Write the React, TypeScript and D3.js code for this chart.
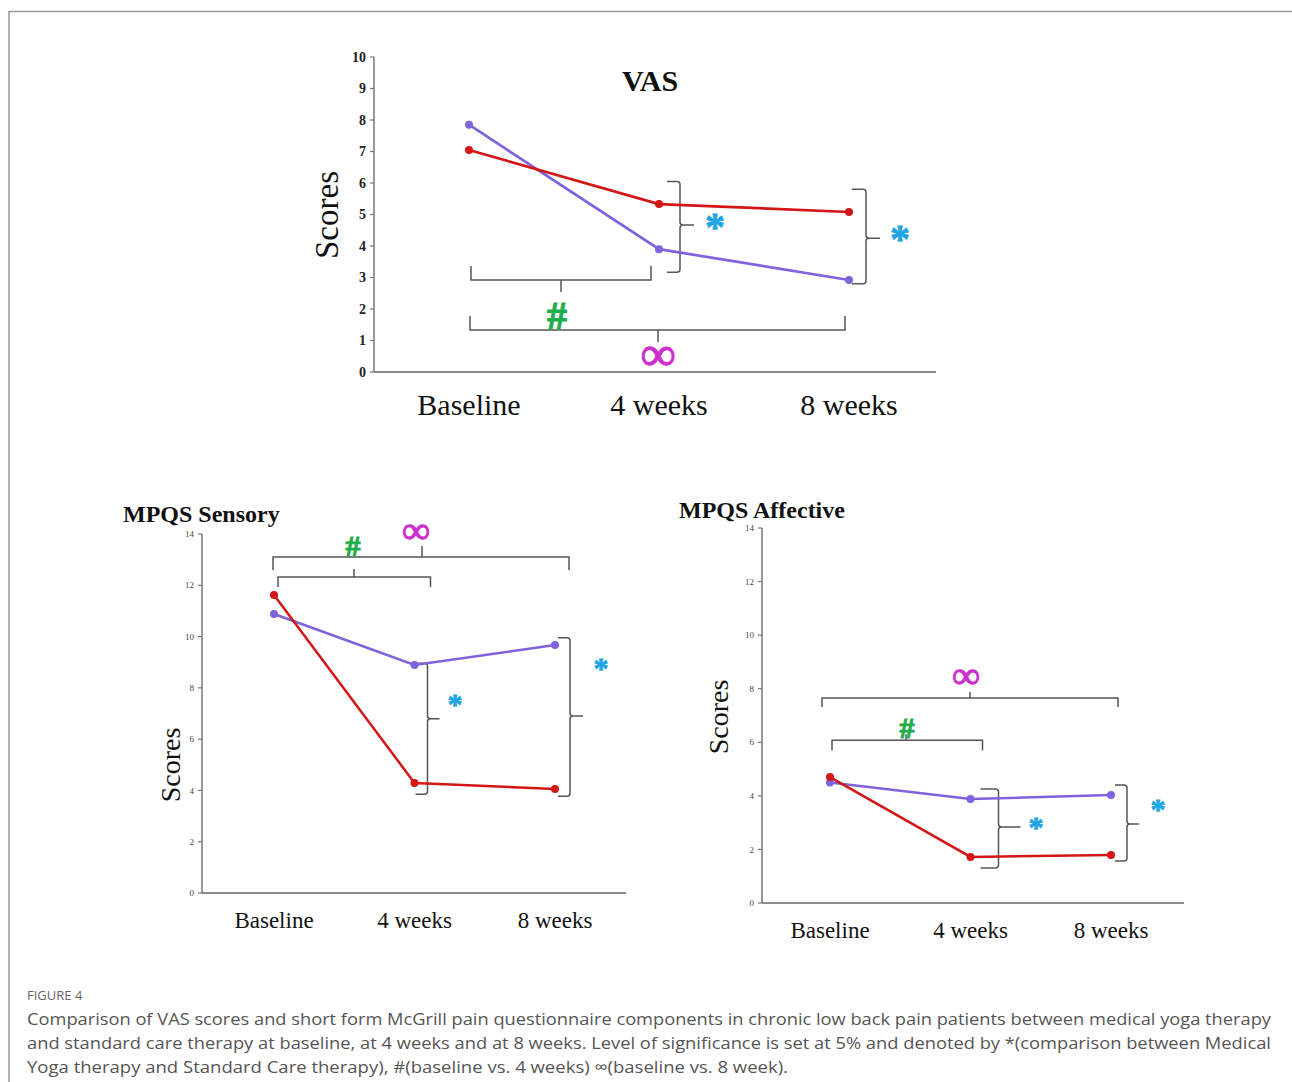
import React from "react";
import * as d3 from "d3";

// ---------- data ----------
const categories = ["Baseline", "4 weeks", "8 weeks"];

const vasPurple = [7.85, 3.9, 2.92];
const vasRed = [7.05, 5.33, 5.08];
const vasTicks = [0, 1, 2, 3, 4, 5, 6, 7, 8, 9, 10];

const sensoryPurple = [10.88, 8.89, 9.67];
const sensoryRed = [11.62, 4.29, 4.06];
const sensoryTicks = [0, 2, 4, 6, 8, 10, 12, 14];

const affectivePurple = [4.5, 3.88, 4.03];
const affectiveRed = [4.7, 1.72, 1.79];
const affectiveTicks = [0, 2, 4, 6, 8, 10, 12, 14];

const captionTitle = "FIGURE 4";
const captionLines = [
  "Comparison of VAS scores and short form McGrill pain questionnaire components in chronic low back pain patients between medical yoga therapy",
  "and standard care therapy at baseline, at 4 weeks and at 8 weeks. Level of significance is set at 5% and denoted by *(comparison between Medical",
  "Yoga therapy and Standard Care therapy), #(baseline vs. 4 weeks) \u221E(baseline vs. 8 week).",
];

const RED = "#d31616";
const PURPLE = "#7f62dc";
const STAR = "#1ea5e3";
const HASH = "#1fae4b";
const INF = "#cc30cc";
const BR = "#555";
const SERIF = "'Liberation Serif', 'DejaVu Serif', serif";

type HBr = { a: number; b: number; v: number; dx1: number; dx2: number; end: number; nub: number; nubX?: number };
type VBr = { c: number; dx: number; v1: number; v2: number; tick: number; nub: number; mid?: number };

type PanelCfg = {
  axisX: number;
  axisRight: number;
  y0: number;
  yTop: number;
  yMax: number;
  xFirst: number;
  xLast: number;
  ticks: number[];
  purple: number[];
  red: number[];
  title: string;
  titleX: number;
  titleY: number;
  titleSize: number;
  titleAnchor: string;
  ylabX: number;
  ylabY: number;
  ylabSize: number;
  tickSize: number;
  tickColor: string;
  tickWeight: string;
  xlabY: number;
  xlabSize: number;
  lineW: number;
  dotR: number;
  hash: HBr;
  hashPos: [number, number, number];
  inf: HBr;
  infPos: [number, number, number];
  vb: VBr[];
  stars: [number, number, number][];
};

function hPath(x1: number, x2: number, y: number, end: number, nub: number, nx: number) {
  return `M${x1},${y + end} L${x1},${y} L${x2},${y} L${x2},${y + end} M${nx},${y} L${nx},${y + nub}`;
}

function vPath(x: number, y1: number, y2: number, tick: number, nub: number, ym: number) {
  const r = 3;
  return `M${x - tick},${y1} L${x - r},${y1} Q${x},${y1} ${x},${y1 + r} L${x},${ym - r} Q${x},${ym} ${x + r},${ym} L${x + nub},${ym} M${x + r},${ym} Q${x},${ym} ${x},${ym + r} L${x},${y2 - r} Q${x},${y2} ${x - r},${y2} L${x - tick},${y2}`;
}

function Panel({ cfg }: { cfg: PanelCfg }) {
  const x = d3.scalePoint<string>().domain(categories).range([cfg.xFirst, cfg.xLast]);
  const y = d3.scaleLinear().domain([0, cfg.yMax]).range([cfg.y0, cfg.yTop]);
  const line = d3
    .line<number>()
    .x((_, i) => x(categories[i]) as number)
    .y((d) => y(d));
  const hb = (b: HBr) => {
    const x1 = (x(categories[b.a]) as number) + b.dx1;
    const x2 = (x(categories[b.b]) as number) + b.dx2;
    const nx = b.nubX !== undefined ? b.nubX : (x1 + x2) / 2;
    return hPath(x1, x2, y(b.v), b.end, b.nub, nx);
  };
  const vb = (b: VBr) => {
    const xx = (x(categories[b.c]) as number) + b.dx;
    const y1 = y(b.v1);
    const y2 = y(b.v2);
    const ym = b.mid !== undefined ? y(b.mid) : (y1 + y2) / 2;
    return vPath(xx, y1, y2, b.tick, b.nub, ym);
  };
  return (
    <g>
      {/* axes */}
      <line x1={cfg.axisX} x2={cfg.axisX} y1={cfg.yTop} y2={cfg.y0} stroke="#777" strokeWidth={1.5} />
      <line x1={cfg.axisX} x2={cfg.axisRight} y1={cfg.y0} y2={cfg.y0} stroke="#666" strokeWidth={1.6} />
      {cfg.ticks.map((t) => (
        <g key={t}>
          <line x1={cfg.axisX - 4} x2={cfg.axisX} y1={y(t)} y2={y(t)} stroke="#777" strokeWidth={1.2} />
          <text
            x={cfg.axisX - 8}
            y={y(t)}
            dy="0.35em"
            textAnchor="end"
            fontFamily={SERIF}
            fontSize={cfg.tickSize}
            fontWeight={cfg.tickWeight}
            fill={cfg.tickColor}
          >
            {t}
          </text>
        </g>
      ))}
      {categories.map((c) => (
        <text
          key={c}
          x={x(c) as number}
          y={cfg.xlabY}
          dy="0.35em"
          textAnchor="middle"
          fontFamily={SERIF}
          fontSize={cfg.xlabSize}
          fill="#111"
        >
          {c}
        </text>
      ))}
      <text
        transform={`translate(${cfg.ylabX},${cfg.ylabY}) rotate(-90)`}
        textAnchor="middle"
        dy="0.35em"
        fontFamily={SERIF}
        fontSize={cfg.ylabSize}
        fill="#111"
      >
        Scores
      </text>
      <text
        x={cfg.titleX}
        y={cfg.titleY}
        dy="0.35em"
        textAnchor={cfg.titleAnchor}
        fontFamily={SERIF}
        fontWeight="bold"
        fontSize={cfg.titleSize}
        fill="#111"
      >
        {cfg.title}
      </text>
      {/* brackets */}
      <g fill="none" stroke={BR} strokeWidth={1.5}>
        <path d={hb(cfg.hash)} />
        <path d={hb(cfg.inf)} />
        {cfg.vb.map((b, i) => (
          <path key={i} d={vb(b)} />
        ))}
      </g>
      {/* series */}
      <path d={line(cfg.purple) || ""} fill="none" stroke={PURPLE} strokeWidth={cfg.lineW} />
      <path d={line(cfg.red) || ""} fill="none" stroke={RED} strokeWidth={cfg.lineW} />
      {cfg.purple.map((v, i) => (
        <circle key={"p" + i} cx={x(categories[i]) as number} cy={y(v)} r={cfg.dotR} fill={PURPLE} />
      ))}
      {cfg.red.map((v, i) => (
        <circle key={"r" + i} cx={x(categories[i]) as number} cy={y(v)} r={cfg.dotR} fill={RED} />
      ))}
      {/* significance symbols */}
      <text
        x={cfg.hashPos[0]}
        y={cfg.hashPos[1]}
        dy="0.35em"
        textAnchor="middle"
        fontFamily={SERIF}
        fontWeight="bold"
        fontSize={cfg.hashPos[2]}
        fill={HASH}
        stroke={HASH}
        strokeWidth={1}
      >
        #
      </text>
      <text
        x={cfg.infPos[0]}
        y={cfg.infPos[1]}
        dy="0.3em"
        textAnchor="middle"
        fontFamily={SERIF}
        fontWeight="bold"
        fontSize={cfg.infPos[2]}
        fill={INF}
        stroke={INF}
        strokeWidth={1.2}
      >
        {"\u221E"}
      </text>
      {cfg.stars.map((s, i) => (
        <text
          key={i}
          x={s[0]}
          y={s[1]}
          dy="0.7em"
          textAnchor="middle"
          fontFamily={SERIF}
          fontWeight="bold"
          fontSize={s[2]}
          fill={STAR}
          stroke={STAR}
          strokeWidth={0.8}
        >
          *
        </text>
      ))}
    </g>
  );
}

const vasCfg: PanelCfg = {
  axisX: 374,
  axisRight: 936,
  y0: 372,
  yTop: 57,
  yMax: 10,
  xFirst: 469,
  xLast: 849,
  ticks: vasTicks,
  purple: vasPurple,
  red: vasRed,
  title: "VAS",
  titleX: 650,
  titleY: 80,
  titleSize: 30,
  titleAnchor: "middle",
  ylabX: 326,
  ylabY: 215,
  ylabSize: 33,
  tickSize: 14,
  tickColor: "#222",
  tickWeight: "bold",
  xlabY: 404,
  xlabSize: 30,
  lineW: 2.7,
  dotR: 4,
  hash: { a: 0, b: 1, v: 2.92, dx1: 2, dx2: -8, end: -14, nub: 12 },
  hashPos: [557, 315, 40],
  inf: { a: 0, b: 2, v: 1.33, dx1: 1, dx2: -4, end: -14, nub: 12, nubX: 658 },
  infPos: [658, 356, 48],
  vb: [
    { c: 1, dx: 21, v1: 6.05, v2: 3.17, tick: 13, nub: 14, mid: 4.67 },
    { c: 2, dx: 17, v1: 5.8, v2: 2.8, tick: 14, nub: 14, mid: 4.25 },
  ],
  stars: [
    [715, 212, 40],
    [900, 224, 40],
  ],
};

const sensoryCfg: PanelCfg = {
  axisX: 202,
  axisRight: 626,
  y0: 893,
  yTop: 534,
  yMax: 14,
  xFirst: 274,
  xLast: 555,
  ticks: sensoryTicks,
  purple: sensoryPurple,
  red: sensoryRed,
  title: "MPQS  Sensory",
  titleX: 123,
  titleY: 514,
  titleSize: 24,
  titleAnchor: "start",
  ylabX: 170,
  ylabY: 765,
  ylabSize: 28,
  tickSize: 9,
  tickColor: "#444",
  tickWeight: "normal",
  xlabY: 920,
  xlabSize: 23,
  lineW: 2.5,
  dotR: 4,
  hash: { a: 0, b: 1, v: 12.32, dx1: 4, dx2: 16, end: 10, nub: -8, nubX: 354 },
  hashPos: [353, 545, 30],
  inf: { a: 0, b: 2, v: 13.1, dx1: -1, dx2: 14, end: 13, nub: -11, nubX: 422 },
  infPos: [416, 532, 38],
  vb: [
    { c: 1, dx: 13, v1: 8.96, v2: 3.85, tick: 12, nub: 12, mid: 6.8 },
    { c: 2, dx: 15, v1: 9.95, v2: 3.77, tick: 12, nub: 13, mid: 6.9 },
  ],
  stars: [
    [455, 693, 30],
    [601, 657, 30],
  ],
};

const affectiveCfg: PanelCfg = {
  axisX: 762,
  axisRight: 1184,
  y0: 903,
  yTop: 528,
  yMax: 14,
  xFirst: 830,
  xLast: 1111,
  ticks: affectiveTicks,
  purple: affectivePurple,
  red: affectiveRed,
  title: "MPQS Affective",
  titleX: 679,
  titleY: 510,
  titleSize: 24,
  titleAnchor: "start",
  ylabX: 718,
  ylabY: 717,
  ylabSize: 28,
  tickSize: 9,
  tickColor: "#444",
  tickWeight: "normal",
  xlabY: 930,
  xlabSize: 23,
  lineW: 2.5,
  dotR: 4,
  hash: { a: 0, b: 1, v: 6.08, dx1: 2, dx2: 12, end: 10, nub: -6, nubX: 906 },
  hashPos: [907, 727, 30],
  inf: { a: 0, b: 2, v: 7.65, dx1: -8, dx2: 7, end: 9, nub: -6, nubX: 970 },
  infPos: [966, 677, 38],
  vb: [
    { c: 1, dx: 28, v1: 4.26, v2: 1.31, tick: 18, nub: 22, mid: 2.84 },
    { c: 2, dx: 16, v1: 4.41, v2: 1.57, tick: 12, nub: 12, mid: 2.95 },
  ],
  stars: [
    [1036, 816, 30],
    [1158, 798, 30],
  ],
};

export default function App() {
  return (
    <svg
      width={1292}
      height={1082}
      viewBox="0 0 1292 1082"
      style={{ position: "absolute", left: 0, top: 0, display: "block", background: "#fff" }}
    >
      <rect x={0} y={0} width={1292} height={1082} fill="#fff" />
      {/* frame */}
      <path d="M9,1082 L9,11.5 L1292,11.5" fill="none" stroke="#999" strokeWidth={1.5} />
      <Panel cfg={vasCfg} />
      <Panel cfg={sensoryCfg} />
      <Panel cfg={affectiveCfg} />
      {/* caption */}
      <text x={27} y={1000} fontFamily="'Open Sans', Lato, sans-serif" fontSize={13} fill="#666">
        {captionTitle}
      </text>
      {captionLines.map((l, i) => (
        <text
          key={i}
          x={27}
          y={1025 + i * 24}
          fontFamily="'Open Sans', Lato, sans-serif"
          fontSize={17}
          fill="#555"
          textLength={i < 2 ? 1244 : 761}
          lengthAdjust="spacingAndGlyphs"
        >
          {l}
        </text>
      ))}
    </svg>
  );
}
